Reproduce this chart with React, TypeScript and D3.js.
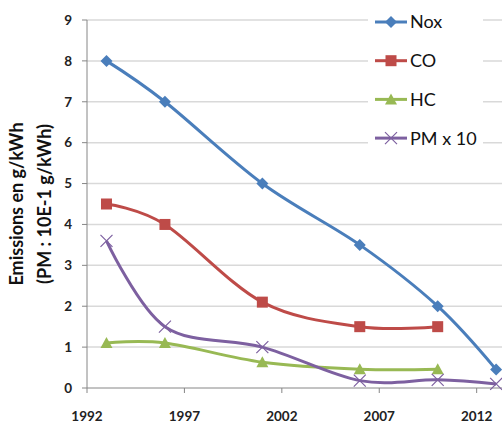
import React, { useEffect, useRef } from 'react';
import * as d3 from 'd3';

const years = [1993, 1996, 2001, 2006, 2010, 2013];
const nox = [8, 7, 5, 3.5, 2, 0.45];
const co = [4.5, 4, 2.1, 1.5, 1.5];
const hc = [1.1, 1.1, 0.63, 0.46, 0.46];
const pm = [3.6, 1.5, 1.0, 0.18, 0.2, 0.1];
const xTicks = [1992, 1997, 2002, 2007, 2012];
const yTicks = [0, 1, 2, 3, 4, 5, 6, 7, 8, 9];

const seriesList = [
    { name: 'Nox', values: nox, color: '#4A7EBB', marker: 'diamond' },
    { name: 'CO', values: co, color: '#BE4B48', marker: 'square' },
    { name: 'HC', values: hc, color: '#98B954', marker: 'triangle' },
    { name: 'PM x 10', values: pm, color: '#7D60A0', marker: 'x' },
];

const W = 502;
const H = 423;

export default function App() {
    const svgRef = useRef<SVGSVGElement>(null);

    useEffect(() => {
        if (!svgRef.current) return;
        const svg = d3.select(svgRef.current);
        svg.selectAll('*').remove();

        const left = 87, right = 502, top = 20, bottom = 388;
        const x = d3.scaleLinear().domain([1992, 2013.3]).range([left, right]);
        const y = d3.scaleLinear().domain([0, 9]).range([bottom, top]);
        const font = 'Lato, "Open Sans", sans-serif';

        // gridlines
        svg.append('g').selectAll('line')
            .data(yTicks.filter(t => t > 0))
            .enter().append('line')
            .attr('x1', left).attr('x2', right)
            .attr('y1', d => y(d)).attr('y2', d => y(d))
            .attr('stroke', '#D9D9D9').attr('stroke-width', 1.5);

        // axes
        const axisColor = '#868686';
        svg.append('line').attr('x1', left).attr('x2', left).attr('y1', top).attr('y2', bottom)
            .attr('stroke', axisColor).attr('stroke-width', 1);
        svg.append('line').attr('x1', left).attr('x2', right).attr('y1', bottom).attr('y2', bottom)
            .attr('stroke', axisColor).attr('stroke-width', 1);

        svg.append('g').selectAll('line').data(yTicks).enter().append('line')
            .attr('x1', left - 5).attr('x2', left).attr('y1', d => y(d)).attr('y2', d => y(d))
            .attr('stroke', axisColor);
        svg.append('g').selectAll('text').data(yTicks).enter().append('text')
            .attr('x', 72).attr('y', d => y(d)).attr('dy', '0.35em')
            .attr('text-anchor', 'end')
            .attr('font-family', font).attr('font-weight', 'bold').attr('font-size', 13.5)
            .attr('fill', '#222')
            .text(d => d);

        svg.append('g').selectAll('line').data(xTicks).enter().append('line')
            .attr('x1', d => x(d)).attr('x2', d => x(d)).attr('y1', bottom).attr('y2', bottom + 5)
            .attr('stroke', axisColor);
        svg.append('g').selectAll('text').data(xTicks).enter().append('text')
            .attr('x', d => x(d)).attr('y', 420.5)
            .attr('text-anchor', 'middle')
            .attr('font-family', font).attr('font-weight', 'bold').attr('font-size', 13.5)
            .attr('fill', '#222')
            .text(d => d);

        // y title
        const title = svg.append('text')
            .attr('transform', 'translate(0,204) rotate(-90)')
            .attr('text-anchor', 'middle')
            .attr('font-family', font).attr('font-weight', 'bold').attr('font-size', 18)
            .attr('fill', '#111');
        title.append('tspan').attr('x', 0).attr('y', 23).text('Emissions en g/kWh');
        title.append('tspan').attr('x', 0).attr('y', 51).text('(PM : 10E-1 g/kWh)');

        const drawMarker = (g: any, kind: string, color: string) => {
            if (kind === 'diamond') {
                g.append('path').attr('d', 'M0,-6L6,0L0,6L-6,0Z').attr('fill', color);
            } else if (kind === 'square') {
                g.append('rect').attr('x', -5.5).attr('y', -5.5).attr('width', 11).attr('height', 11).attr('fill', color);
            } else if (kind === 'triangle') {
                g.append('path').attr('d', 'M0,-6L6,5L-6,5Z').attr('fill', color);
            } else {
                g.append('path').attr('d', 'M-6,-6L6,6M-6,6L6,-6').attr('stroke', color).attr('stroke-width', 1.2).attr('fill', 'none');
            }
        };

        const line = d3.line<[number, number]>()
            .x(d => x(d[0])).y(d => y(d[1]))
            .curve(d3.curveCardinal.tension(0));

        seriesList.forEach(s => {
            const pts = s.values.map((v, i) => [years[i], v] as [number, number]);
            svg.append('path').attr('d', line(pts))
                .attr('fill', 'none').attr('stroke', s.color).attr('stroke-width', 3);
            pts.forEach(p => {
                const g = svg.append('g').attr('transform', `translate(${x(p[0])},${y(p[1])})`);
                drawMarker(g, s.marker, s.color);
            });
        });

        // legend
        const lg = svg.append('g');
        lg.append('rect').attr('x', 368).attr('y', 3).attr('width', 115).attr('height', 144).attr('fill', 'white');
        seriesList.forEach((s, i) => {
            const ly = 22 + i * 38.7;
            lg.append('line').attr('x1', 375).attr('x2', 407).attr('y1', ly).attr('y2', ly)
                .attr('stroke', s.color).attr('stroke-width', 3);
            const g = lg.append('g').attr('transform', `translate(391,${ly})`);
            drawMarker(g, s.marker, s.color);
            lg.append('text').attr('x', 410).attr('y', ly).attr('dy', '0.36em')
                .attr('font-family', font).attr('font-size', 18).attr('fill', '#111')
                .text(s.name);
        });
    }, []);

    return (
        <div style={{ position: 'absolute', left: 0, top: 0 }}>
            <svg ref={svgRef} width={W} height={H} style={{ display: 'block', background: 'white' }} />
        </div>
    );
}
